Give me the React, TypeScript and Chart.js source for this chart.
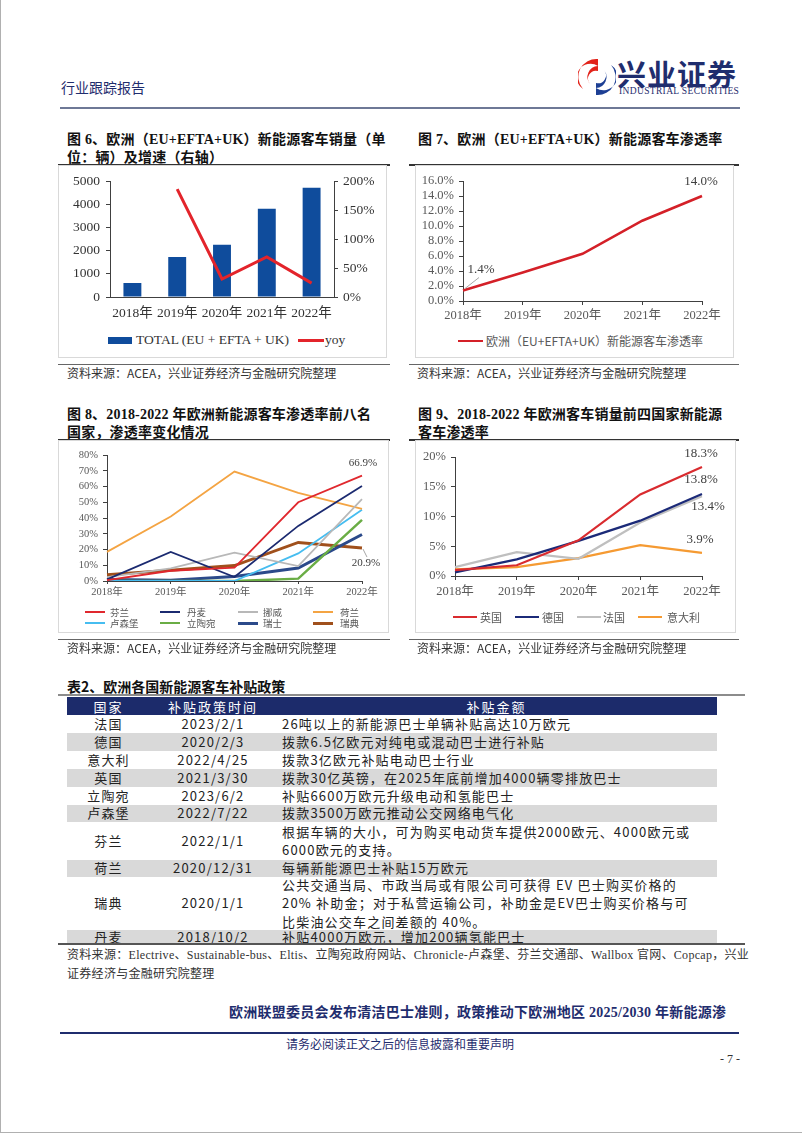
import React, { useEffect, useRef } from "react";
import { Chart, registerables } from "chart.js";

Chart.register(...registerables);

// ---------------- data ----------------
const years = ["2018年", "2019年", "2020年", "2021年", "2022年"];

// Fig 6
const salesTotal = [603, 1724, 2256, 3807, 4713];
const salesYoy: (number | null)[] = [null, 186, 31, 69, 24];

// Fig 7
const europePenetration = [1.4, 3.8, 6.3, 10.7, 14.0];

// Fig 8
const fig8Names = ["芬兰", "丹麦", "挪威", "荷兰", "卢森堡", "立陶宛", "瑞士", "瑞典"];
const finland = [0.5, 6.5, 8.5, 50.0, 66.9];
const denmark = [1.0, 18.5, 2.5, 35.0, 60.3];
const norway = [2.5, 8.0, 18.0, 9.5, 52.0];
const netherlands = [18.5, 41.0, 69.5, 56.0, 45.8];
const luxembourg = [0, 0, 0, 17.5, 45.2];
const lithuania = [0, 0, 0, 1.5, 38.8];
const switzerland = [1.0, 0.5, 2.8, 8.2, 29.5];
const sweden = [4.0, 6.8, 9.8, 24.5, 20.9];

// Fig 9
const fig9Names = ["英国", "德国", "法国", "意大利"];
const uk = [1.0, 1.8, 6.0, 13.7, 18.3];
const germany = [0.6, 2.8, 5.9, 9.3, 13.8];
const france = [1.5, 4.0, 2.9, 9.0, 13.4];
const italy = [1.1, 1.5, 3.0, 5.2, 3.9];

// Table 2
const tableCountries = ["法国", "德国", "意大利", "英国", "立陶宛", "卢森堡", "芬兰", "荷兰", "瑞典", "丹麦"];
const tableDates = ["2023/2/1", "2020/2/3", "2022/4/25", "2021/3/30", "2023/6/2", "2022/7/22", "2022/1/1", "2020/12/31", "2020/1/1", "2018/10/2"];
const tableAmounts: string[][] = [
  ["26吨以上的新能源巴士单辆补贴高达10万欧元"],
  ["拨款6.5亿欧元对纯电或混动巴士进行补贴"],
  ["拨款3亿欧元补贴电动巴士行业"],
  ["拨款30亿英镑，在2025年底前增加4000辆零排放巴士"],
  ["补贴6600万欧元升级电动和氢能巴士"],
  ["拨款3500万欧元推动公交网络电气化"],
  ["根据车辆的大小，可为购买电动货车提供2000欧元、4000欧元或", "6000欧元的支持。"],
  ["每辆新能源巴士补贴15万欧元"],
  ["公共交通当局、市政当局或有限公司可获得 EV 巴士购买价格的", "20% 补助金；对于私营运输公司，补助金是EV巴士购买价格与可", "比柴油公交车之间差额的 40%。"],
  ["补贴4000万欧元，增加200辆氢能巴士"],
];

// ---------------- styles ----------------
const SERIF = "'Liberation Serif', 'Times New Roman', 'Noto Sans CJK SC', serif";
const CJK = "'Noto Sans CJK SC', sans-serif";
const NAVY = "#1f2d6e";
const AXIS = "#404040";

const labelPlugin = {
  id: "pointLabels",
  afterDatasetsDraw(chart: any, _args: any, opts: any) {
    const items = (opts && opts.items) || [];
    const ctx = chart.ctx;
    items.forEach((it: any) => {
      const meta = chart.getDatasetMeta(it.ds);
      const pt = meta.data[it.idx];
      if (!pt) return;
      const value = chart.data.datasets[it.ds].data[it.idx];
      ctx.save();
      if (it.leader) {
        ctx.strokeStyle = "#a6a6a6";
        ctx.lineWidth = 1;
        ctx.beginPath();
        ctx.moveTo(pt.x + it.leader[0], pt.y + it.leader[1]);
        ctx.lineTo(pt.x + it.leader[2], pt.y + it.leader[3]);
        ctx.stroke();
      }
      ctx.font = `${it.size || 13}px ${SERIF}`;
      ctx.fillStyle = "#404040";
      ctx.textAlign = "center";
      ctx.textBaseline = "middle";
      ctx.fillText(`${Number(value).toFixed(1)}%`, pt.x + it.dx, pt.y + it.dy);
      ctx.restore();
    });
  },
};

function useChart(factory: () => any) {
  const ref = useRef<HTMLCanvasElement | null>(null);
  useEffect(() => {
    const chart = new Chart(ref.current as HTMLCanvasElement, factory());
    return () => chart.destroy();
  }, []);
  return ref;
}

function Canvas({ cref, left, top, width, height }: any) {
  return (
    <canvas
      ref={cref}
      width={width}
      height={height}
      style={{ position: "absolute", left, top, width, height }}
    />
  );
}

function yAxis(opts: any) {
  return {
    position: opts.position || "left",
    min: opts.min,
    max: opts.max,
    afterFit: (s: any) => {
      s.width = opts.width;
    },
    border: { display: true, color: AXIS, width: 1 },
    grid: { display: true, drawOnChartArea: false, drawTicks: true, tickLength: 4, color: AXIS },
    ticks: {
      stepSize: opts.step,
      autoSkip: false,
      padding: opts.padding ?? 5,
      color: opts.color || "#333",
      font: { family: SERIF, size: opts.size || 13 },
      callback: opts.callback,
    },
  };
}

function xAxis(opts: any) {
  return {
    offset: opts.offset,
    afterFit: (s: any) => {
      s.height = opts.height;
    },
    border: { display: true, color: AXIS, width: 1 },
    grid: {
      display: opts.ticks,
      drawOnChartArea: false,
      drawTicks: !!opts.ticks,
      tickLength: opts.tickLength || 4,
      color: AXIS,
    },
    ticks: {
      padding: opts.padding,
      color: opts.color || "#333",
      font: { family: SERIF, size: opts.size || 13 },
      maxRotation: 0,
      autoSkip: false,
    },
  };
}

// ---------------- charts ----------------
function Fig6() {
  const ref = useChart(() => ({
    data: {
      labels: years,
      datasets: [
        {
          type: "line",
          label: "yoy",
          data: salesYoy,
          yAxisID: "y1",
          borderColor: "#e3242b",
          borderWidth: 3,
          pointRadius: 0,
          tension: 0,
          order: 0,
        },
        {
          type: "bar",
          label: "TOTAL (EU + EFTA + UK)",
          data: salesTotal,
          yAxisID: "y",
          backgroundColor: "#0f4c9c",
          barPercentage: 0.4,
          categoryPercentage: 1,
          order: 1,
        },
      ],
    },
    options: {
      responsive: false,
      animation: false,
      devicePixelRatio: 1,
      layout: { autoPadding: false, padding: { top: 15, left: 0, right: 0, bottom: 0 } },
      plugins: { legend: { display: false }, tooltip: { enabled: false } },
      scales: {
        x: xAxis({ offset: true, height: 29, padding: 8, ticks: false, size: 13.5 }),
        y: yAxis({ min: 0, max: 5000, step: 1000, width: 52, padding: 6, size: 13.5 }),
        y1: yAxis({
          position: "right",
          min: 0,
          max: 200,
          step: 50,
          width: 52,
          padding: 5,
          size: 13.5,
          callback: (v: any) => `${v}%`,
        }),
      },
    },
  }));
  return <Canvas cref={ref} left={58} top={166} width={328} height={160} />;
}

function Fig7() {
  const ref = useChart(() => ({
    type: "line",
    data: {
      labels: years,
      datasets: [
        {
          label: "欧洲（EU+EFTA+UK）新能源客车渗透率",
          data: europePenetration,
          borderColor: "#d42028",
          borderWidth: 2.5,
          pointRadius: 0,
          tension: 0,
        },
      ],
    },
    options: {
      responsive: false,
      animation: false,
      devicePixelRatio: 1,
      layout: { autoPadding: false, padding: { top: 15, left: 0, right: 31, bottom: 0 } },
      plugins: {
        legend: { display: false },
        tooltip: { enabled: false },
        pointLabels: {
          items: [
            { ds: 0, idx: 0, dx: 18, dy: -21, leader: [2, -2, 16, -13], size: 13 },
            { ds: 0, idx: 4, dx: -1, dy: -14, size: 13 },
          ],
        },
      },
      scales: {
        x: xAxis({ offset: false, height: 25, padding: 3, ticks: true, tickLength: 4, color: "#595959", size: 12.5 }),
        y: yAxis({
          min: 0,
          max: 16,
          step: 2,
          width: 48,
          padding: 5,
          size: 12.5,
          color: "#595959",
          callback: (v: any) => `${Number(v).toFixed(1)}%`,
        }),
      },
    },
    plugins: [labelPlugin],
  }));
  return <Canvas cref={ref} left={415} top={166} width={318} height={160} />;
}

const fig8Series = [
  { name: fig8Names[0], data: finland, color: "#e0282e", width: 1.8 },
  { name: fig8Names[1], data: denmark, color: "#1b2a70", width: 1.8 },
  { name: fig8Names[2], data: norway, color: "#b8b8b8", width: 1.8 },
  { name: fig8Names[3], data: netherlands, color: "#f4a443", width: 1.8 },
  { name: fig8Names[4], data: luxembourg, color: "#46bdf0", width: 1.8 },
  { name: fig8Names[5], data: lithuania, color: "#6aad45", width: 2.5 },
  { name: fig8Names[6], data: switzerland, color: "#2b4a8a", width: 3 },
  { name: fig8Names[7], data: sweden, color: "#a0501c", width: 3 },
];

function Fig8() {
  const ref = useChart(() => ({
    type: "line",
    data: {
      labels: years,
      datasets: fig8Series.map((s) => ({
        label: s.name,
        data: s.data,
        borderColor: s.color,
        borderWidth: s.width,
        pointRadius: 0,
        tension: 0,
      })),
    },
    options: {
      responsive: false,
      animation: false,
      devicePixelRatio: 1,
      layout: { autoPadding: false, padding: { top: 14, left: 0, right: 26, bottom: 0 } },
      plugins: {
        legend: { display: false },
        tooltip: { enabled: false },
        pointLabels: {
          items: [
            { ds: 0, idx: 4, dx: 1, dy: -13, size: 11 },
            { ds: 7, idx: 4, dx: 4, dy: 15, leader: [1, 1, 5, 9], size: 11 },
          ],
        },
      },
      scales: {
        x: xAxis({ offset: false, height: 25, padding: 2, ticks: true, tickLength: 3, color: "#595959", size: 10.5 }),
        y: yAxis({
          min: 0,
          max: 80,
          step: 10,
          width: 49,
          padding: 5,
          size: 10.5,
          color: "#595959",
          callback: (v: any) => `${v}%`,
        }),
      },
    },
    plugins: [labelPlugin],
  }));
  return <Canvas cref={ref} left={58} top={441} width={330} height={165} />;
}

const fig9Series = [
  { name: fig9Names[0], data: uk, color: "#d92b2f" },
  { name: fig9Names[1], data: germany, color: "#1b2a78" },
  { name: fig9Names[2], data: france, color: "#bfbfbf" },
  { name: fig9Names[3], data: italy, color: "#f59a32" },
];

function Fig9() {
  const ref = useChart(() => ({
    type: "line",
    data: {
      labels: years,
      datasets: fig9Series.map((s) => ({
        label: s.name,
        data: s.data,
        borderColor: s.color,
        borderWidth: 2.2,
        pointRadius: 0,
        tension: 0,
      })),
    },
    options: {
      responsive: false,
      animation: false,
      devicePixelRatio: 1,
      layout: { autoPadding: false, padding: { top: 16, left: 0, right: 33, bottom: 0 } },
      plugins: {
        legend: { display: false },
        tooltip: { enabled: false },
        pointLabels: {
          items: [
            { ds: 0, idx: 4, dx: -1, dy: -14, size: 13 },
            { ds: 1, idx: 4, dx: -1, dy: -14, size: 13 },
            { ds: 2, idx: 4, dx: 6, dy: 10, size: 13 },
            { ds: 3, idx: 4, dx: -2, dy: -13, size: 13 },
          ],
        },
      },
      scales: {
        x: xAxis({ offset: false, height: 30, padding: 4, ticks: true, tickLength: 4, color: "#595959", size: 12.5 }),
        y: yAxis({
          min: 0,
          max: 20,
          step: 5,
          width: 40,
          padding: 5,
          size: 12.5,
          color: "#595959",
          callback: (v: any) => `${v}%`,
        }),
      },
    },
    plugins: [labelPlugin],
  }));
  return <Canvas cref={ref} left={415} top={441} width={320} height={165} />;
}

// ---------------- page pieces ----------------
const abs = (s: React.CSSProperties): React.CSSProperties => ({ position: "absolute", ...s });

function HLine({ x1, x2, y, h = 1, color = "#555" }: any) {
  return <div style={abs({ left: x1, top: y, width: x2 - x1, height: h, background: color })} />;
}

function Text({ x, y, children, size = 12, color = "#222", bold = false, family = CJK, lh, style }: any) {
  return (
    <div
      style={abs({
        left: x,
        top: y,
        fontSize: size,
        color,
        fontWeight: bold ? 700 : 400,
        fontFamily: family,
        lineHeight: lh ? `${lh}px` : `${Math.round(size * 1.3)}px`,
        whiteSpace: "nowrap",
        ...style,
      })}
    >
      {children}
    </div>
  );
}

function LegendItem({ x, y, sw, kind, color, thick = 2, text, textX, size, family = CJK, tcolor = "#595959" }: any) {
  return (
    <>
      {kind === "box" ? (
        <div style={abs({ left: x, top: y - 3.5, width: sw, height: 7, background: color })} />
      ) : (
        <div style={abs({ left: x, top: y - thick / 2, width: sw, height: thick, background: color })} />
      )}
      <div
        style={abs({
          left: textX,
          top: y - size * 0.65,
          fontSize: size,
          lineHeight: `${size * 1.3}px`,
          fontFamily: family,
          color: tcolor,
          whiteSpace: "nowrap",
        })}
      >
        {text}
      </div>
    </>
  );
}

function Frame({ x1, y1, x2, y2 }: any) {
  return <div style={abs({ left: x1, top: y1, width: x2 - x1, height: y2 - y1, border: "1px solid #d9d9d9", boxSizing: "border-box" })} />;
}

function Logo() {
  return (
    <svg style={abs({ left: 578, top: 57 })} width={38} height={40} viewBox="0 0 38 40">
      <path d="M20 2 A18 18 0 0 0 5 32 A13 13 0 0 1 20 9 Z" fill="#e2231a" />
      <path d="M18 38 A18 18 0 0 0 33 8 A13 13 0 0 1 18 31 Z" fill="#1d3f94" />
      <path d="M20 9 A11 11 0 0 0 12 27 A8 8 0 0 1 20 14 Z" fill="#e2231a" />
      <path d="M18 31 A11 11 0 0 0 26 13 A8 8 0 0 1 18 26 Z" fill="#1d3f94" />
    </svg>
  );
}

function Table2() {
  const left = 67;
  const right = 717;
  const c1 = 150;
  const c2 = 276;
  const rowHeights = [18, 18, 18, 18, 18, 17, 38, 17, 53, 15];
  let y = 715;
  const rows = tableCountries.map((c, i) => {
    const top = y;
    const h = rowHeights[i];
    y += h;
    const bg = i % 2 === 1 ? "#d9d9d9" : "#ffffff";
    const cell: React.CSSProperties = {
      position: "absolute",
      top,
      height: h,
      display: "flex",
      alignItems: "center",
      fontFamily: CJK,
      fontSize: 13,
      color: "#222",
      lineHeight: "18.5px",
      letterSpacing: 1.2,
      whiteSpace: "nowrap",
    };
    return (
      <React.Fragment key={c}>
        <div style={abs({ left, top, width: right - left, height: h, background: bg })} />
        <div style={{ ...cell, left, width: c1 - left, justifyContent: "center" }}>{c}</div>
        <div style={{ ...cell, left: c1, width: c2 - c1, justifyContent: "center" }}>{tableDates[i]}</div>
        <div style={{ ...cell, left: c2 + 6, width: right - c2 - 6 }}>
          <div>
            {tableAmounts[i].map((l, k) => (
              <div key={k}>{l}</div>
            ))}
          </div>
        </div>
      </React.Fragment>
    );
  });
  const head: React.CSSProperties = {
    position: "absolute",
    top: 697,
    height: 18,
    display: "flex",
    alignItems: "center",
    justifyContent: "center",
    fontFamily: CJK,
    fontSize: 13,
    color: "#ffffff",
    letterSpacing: 2,
  };
  return (
    <>
      <Text x={67} y={677} size={14} bold lh={18} color="#111">表2、欧洲各国新能源客车补贴政策</Text>
      <HLine x1={58} x2={745} y={694} h={2} color="#8c8c8c" />
      <div style={abs({ left, top: 697, width: right - left, height: 18, background: "#1c2b6b" })} />
      <div style={{ ...head, left, width: c1 - left }}>国家</div>
      <div style={{ ...head, left: c1, width: c2 - c1 }}>补贴政策时间</div>
      <div style={{ ...head, left: c2, width: right - c2 }}>补贴金额</div>
      {rows}
      <HLine x1={58} x2={745} y={943} h={2} color="#555" />
      <Text x={67} y={946} size={12} lh={19} color="#333" family={SERIF} style={{ letterSpacing: 0.3 }}>
        资料来源：Electrive、Sustainable-bus、Eltis、立陶宛政府网站、Chronicle-卢森堡、芬兰交通部、Wallbox 官网、Copcap，兴业
        <br />
        证券经济与金融研究院整理
      </Text>
    </>
  );
}

export default function App() {
  const titleStyle = { fontFamily: SERIF, letterSpacing: 0.2 };
  return (
    <div style={abs({ left: 0, top: 0, width: 802, height: 1133, background: "#fff", overflow: "hidden" })}>
      <div style={abs({ left: 0, top: 0, width: 1, height: 1133, background: "#b0b0b0" })} />
      <div style={abs({ left: 0, top: 1132, width: 802, height: 1, background: "#b0b0b0" })} />

      {/* header */}
      <Text x={61} y={78} size={14} color={NAVY} lh={18}>行业跟踪报告</Text>
      <Logo />
      <Text x={617} y={56} size={29} bold color={NAVY} lh={34} style={{ letterSpacing: 1 }}>兴业证券</Text>
      <Text x={619} y={86} size={9.5} color={NAVY} family={SERIF} lh={11} style={{ letterSpacing: 0.35 }}>INDUSTRIAL SECURITIES</Text>
      <HLine x1={60} x2={740} y={107} h={2} color="#6e7896" />

      {/* Fig 6 */}
      <Text x={67} y={131} size={14} bold lh={18} color="#111" family={SERIF} style={titleStyle}>
        图 6、欧洲（EU+EFTA+UK）新能源客车销量（单
        <br />
        位：辆）及增速（右轴）
      </Text>
      <HLine x1={58} x2={390} y={164} h={1.5} color="#333" />
      <Frame x1={58} y1={165} x2={387} y2={358} />
      <Fig6 />
      <LegendItem x={108} y={340} sw={24} kind="box" color="#0f4c9c" text="TOTAL (EU + EFTA + UK)" textX={136} size={13.5} family={SERIF} tcolor="#333" />
      <LegendItem x={298} y={340} sw={26} kind="line" thick={3} color="#e3242b" text="yoy" textX={325} size={13.5} family={SERIF} tcolor="#333" />
      <HLine x1={58} x2={390} y={364} h={1} color="#666" />
      <Text x={67} y={365} size={12} lh={16} color="#333">资料来源：ACEA，兴业证券经济与金融研究院整理</Text>

      {/* Fig 7 */}
      <Text x={418} y={131} size={14} bold lh={18} color="#111" family={SERIF} style={titleStyle}>
        图 7、欧洲（EU+EFTA+UK）新能源客车渗透率
      </Text>
      <HLine x1={409} x2={739} y={164} h={1.5} color="#333" />
      <Frame x1={415} y1={165} x2={734} y2={358} />
      <Fig7 />
      <LegendItem x={458} y={341} sw={25} kind="line" thick={2.5} color="#d42028" text="欧洲（EU+EFTA+UK）新能源客车渗透率" textX={486} size={12} />
      <HLine x1={409} x2={739} y={364} h={1} color="#666" />
      <Text x={417} y={365} size={12} lh={16} color="#333">资料来源：ACEA，兴业证券经济与金融研究院整理</Text>

      {/* Fig 8 */}
      <Text x={67} y={406} size={14} bold lh={18} color="#111" family={SERIF} style={titleStyle}>
        图 8、2018-2022 年欧洲新能源客车渗透率前八名
        <br />
        国家，渗透率变化情况
      </Text>
      <HLine x1={58} x2={390} y={439} h={1.5} color="#333" />
      <Frame x1={58} y1={440} x2={389} y2={633} />
      <Fig8 />
      {fig8Series.map((s, i) => {
        const col = i % 4;
        const row = Math.floor(i / 4);
        const sx = [85, 160, 238, 313][col];
        const tx = [110, 187, 263, 340][col];
        return (
          <LegendItem key={s.name} x={sx} y={row === 0 ? 612 : 623} sw={20} kind="line" thick={s.width >= 3 ? 3 : 2} color={s.color} text={s.name} textX={tx} size={9.5} />
        );
      })}
      <HLine x1={58} x2={390} y={639} h={1} color="#666" />
      <Text x={67} y={640} size={12} lh={16} color="#333">资料来源：ACEA，兴业证券经济与金融研究院整理</Text>

      {/* Fig 9 */}
      <Text x={418} y={406} size={14} bold lh={18} color="#111" family={SERIF} style={titleStyle}>
        图 9、2018-2022 年欧洲客车销量前四国家新能源
        <br />
        客车渗透率
      </Text>
      <HLine x1={409} x2={739} y={439} h={1.5} color="#333" />
      <Frame x1={415} y1={440} x2={736} y2={633} />
      <Fig9 />
      {fig9Series.map((s, i) => (
        <LegendItem key={s.name} x={[453, 515, 577, 638][i]} y={617} sw={24} kind="line" thick={2.2} color={s.color} text={s.name} textX={[480, 542, 603, 667][i]} size={11} />
      ))}
      <HLine x1={409} x2={739} y={639} h={1} color="#666" />
      <Text x={417} y={640} size={12} lh={16} color="#333">资料来源：ACEA，兴业证券经济与金融研究院整理</Text>

      {/* Table 2 */}
      <Table2 />

      {/* footer */}
      <Text x={229} y={1004} size={14} bold lh={18} color={NAVY} family={SERIF} style={{ letterSpacing: 0.25 }}>
        欧洲联盟委员会发布清洁巴士准则，政策推动下欧洲地区 2025/2030 年新能源渗
      </Text>
      <HLine x1={60} x2={739} y={1032} h={2} color={NAVY} />
      <div style={abs({ left: 60, width: 680, top: 1036, textAlign: "center", fontSize: 12, lineHeight: "16px", fontFamily: CJK, color: NAVY })}>
        请务必阅读正文之后的信息披露和重要声明
      </div>
      <Text x={720} y={1051} size={12} lh={16} color="#333" family={SERIF}>- 7 -</Text>
    </div>
  );
}
